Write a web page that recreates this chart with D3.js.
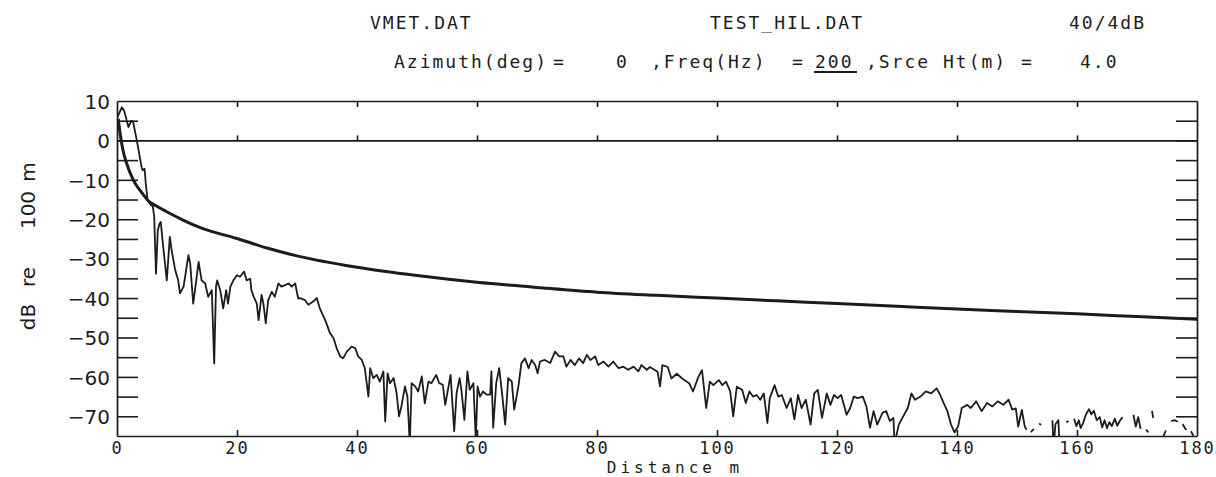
<!DOCTYPE html>
<html>
<head>
<meta charset="utf-8">
<script src="https://cdn.jsdelivr.net/npm/d3@7"></script>
<style>
  html, body { margin: 0; padding: 0; background: #fff; }
  svg { display: block; }
</style>
</head>
<body>
<svg id="chart" width="1216" height="477"></svg>
<script>
// ---------------- DATA ----------------
const headerLine1 = ["VMET.DAT", "TEST_HIL.DAT", "40/4dB"];
const azimuthDeg = "0";
const freqHz = "200";
const srceHt = "4.0";

const xTicks = [0, 20, 40, 60, 80, 100, 120, 140, 160, 180];
const yMinorTicks = [5, 0, -5, -10, -15, -20, -25, -30, -35, -40, -45, -50, -55, -60, -65, -70];
const yLabelTicks = [10, 0, -10, -20, -30, -40, -50, -60, -70];

// smooth predicted curve [distance m, dB]
const predicted = [
  [0.2, 5.5], [0.5, 2], [0.7, 0], [1, -2.5], [1.6, -5.8], [2.7, -10], [4, -13],
  [5.2, -15.3], [6.5, -16.6], [8.3, -18.1], [11, -20.2], [14, -22.2], [20, -24.9],
  [25, -27.3], [30, -29.3], [40, -32.2], [50, -34.3], [60, -36], [70, -37.3],
  [80, -38.5], [90, -39.3], [100, -40], [110, -40.7], [120, -41.4], [130, -42.1],
  [140, -42.8], [150, -43.4], [160, -44], [170, -44.7], [180, -45.4]
];

// measured level [distance m, dB]  (null = gap in the trace)
const measured = [
  [0.1, 6], [0.8, 8.4], [1.2, 7.5], [1.9, 3.4], [2.4, 5], [2.7, 4.6], [3.3, 0],
  [3.8, -4.2], [4.1, -6.8], [4.3, -7.6], [4.6, -7.2], [4.8, -11], [5.1, -15.2],
  [5.7, -16.5], [5.9, -16], [6.2, -19.4], [6.5, -33.8], [6.8, -22.8], [7.1, -21.1],
  [7.3, -20.7], [7.7, -27], [8.3, -35.5], [8.8, -24.5], [9.1, -27.8], [9.7, -32.9],
  [10.2, -35.5], [10.5, -38.8], [11.1, -37.1], [11.9, -29.1], [12.2, -31.2],
  [12.7, -41.4], [13.0, -38], [13.6, -30.8], [14.1, -35.5], [14.7, -36.3],
  [15.2, -39.7], [15.8, -38], [16.2, -56.6], [16.5, -37.1], [16.7, -35.5],
  [17.2, -38], [17.7, -42.6], [18.2, -38], [18.5, -41.4], [18.9, -37.1],
  [19.4, -35.5], [20.0, -34.2], [20.5, -34.6], [21.2, -33.3], [21.6, -35.5],
  [22.2, -35.1], [22.4, -38], [22.8, -39.7], [23.3, -41.4], [23.6, -45.6],
  [24.1, -39.2], [24.4, -41.4], [24.8, -46.4], [25.2, -40.5], [25.8, -38.4],
  [26.3, -39.7], [26.9, -36.3], [27.4, -37.1], [28, -36.7], [28.6, -36.3],
  [29.1, -37.1], [29.7, -36.3], [30.2, -40.1],
  [30.5, -40], [31.3, -40.5], [31.9, -41.7], [32.7, -40.9], [33.3, -40],
  [33.8, -42.6], [34.7, -45.6], [35.5, -48.9], [36.1, -50.2], [36.6, -52.7],
  [37.2, -54.8], [37.7, -55.3], [38.3, -53.6], [39.1, -52.3], [39.7, -52.7],
  [40.2, -54.8], [40.8, -55.7], [41.3, -57.8], [41.9, -65], [42.2, -57.8],
  [42.7, -60.3], [43.3, -59.5], [43.8, -61.2], [44.4, -58.6], [44.7, -71.3],
  [45.1, -59.1], [45.5, -61.6], [46.1, -60.3], [46.6, -64.1], [47, -70],
  [47.4, -67.5], [48, -62.4], [48.4, -65], [48.8, -77], [49.1, -61.6],
  [49.7, -62.4], [50.2, -63.7], [50.8, -59.9], [51.3, -66.7], [51.9, -61.2],
  [52.4, -61.6], [53.2, -59.5], [53.7, -61.6], [54.3, -62], [54.7, -67.1],
  [55.2, -62.9], [55.6, -59.5], [56.2, -73.8], [56.6, -64.1], [57.1, -60.3],
  [57.4, -63.3], [57.9, -70.9], [58.4, -58.6], [58.8, -63.3], [59.4, -61.6],
  [59.8, -76], [60.1, -62.4], [60.5, -65], [61, -63.7], [61.6, -64.5],
  [62.2, -64.5], [62.4, -58.6], [62.7, -72.9], [63.2, -61.6], [63.7, -57.8],
  [64.2, -64.5], [64.7, -72.1], [65.2, -60.3], [65.8, -61.2], [66.2, -68.3],
  [66.9, -62.4], [67.4, -56.5], [68, -55.3], [68.6, -57.8], [69.1, -55.7],
  [69.7, -57], [70.1, -59.1], [70.5, -56.1], [71.3, -55.7], [72.2, -56.5],
  [73, -53.6], [73.7, -54.8], [74.4, -54.8], [74.9, -57.4], [75.6, -55.7],
  [76.3, -57], [77, -55.3], [77.7, -56.5], [78.3, -54.4], [78.9, -55.7],
  [79.7, -54.8], [80.2, -57], [81.1, -56.1], [81.9, -57.4], [82.7, -56.1],
  [83.6, -57.8], [84.4, -57.4], [85.2, -58.2], [86.1, -57.4], [86.9, -58.6],
  [87.4, -57], [88.3, -58.2],
  [88.8, -57.5], [90.1, -58.7], [90.5, -62.4], [90.9, -57], [91.8, -57.5],
  [92.4, -60.4], [93.3, -59.2], [94.2, -60.4], [95.4, -61.7], [96, -63.7],
  [96.9, -60], [97.5, -58.3], [98.2, -67.9], [98.8, -61.2], [99.4, -62.1],
  [100.3, -60.8], [100.9, -62.1], [101.5, -61.2], [102.2, -63.7], [102.7, -70],
  [103.3, -62.5], [104.2, -63.3], [104.8, -66.6], [105.4, -63.7], [106, -65],
  [106.6, -64.6], [107.2, -65.8], [107.8, -64.2], [108.4, -71.7], [108.8, -65.4],
  [109.6, -62.1], [110.2, -65], [110.8, -64.6], [111.6, -67.9], [112.3, -65.4],
  [112.9, -70.8], [113.5, -64.6], [114.1, -67.9], [114.8, -65.8], [115.6, -72.1],
  [116.2, -64.2], [116.8, -63.3], [117.5, -70.4], [118.3, -64.2], [118.9, -67.1],
  [119.5, -64.6], [120.1, -65.4], [120.7, -64.6], [121.6, -69.6], [122.2, -67.9],
  [122.8, -65], [123.4, -65.4], [124.3, -65], [124.9, -67.5], [125.5, -72.9],
  [126.1, -68.7], [126.7, -72.1], [127.6, -69.1], [128.2, -68.7], [128.8, -71.2],
  [129.4, -70.4], [129.6, -77], [130.3, -72.1], [130.9, -70.4], [131.8, -67.9],
  [132.4, -64.2], [133, -65.8], [133.9, -65], [134.8, -63.7], [135.7, -64.2],
  [136.6, -62.9], [137.2, -64.6], [137.8, -66.7], [138.4, -68.7], [139, -72.1],
  [139.6, -74.1], [140.2, -72.5], [140.8, -67.9], [141.7, -67.1], [142.3, -67.9],
  [143.2, -66.2], [144.1, -68.7], [145, -66.6], [145.9, -67.5], [146.8, -66.2],
  [147.7, -67.1], [148.6, -65.8], [149.2, -68.3],
  [149.8, -68], [150.2, -72.6], [150.8, -68.4], [151.3, -72.6], [151.6, -73.4],
  [151.8, null], [152.3, -74], [152.8, -73.2], [153.1, null], [153.7, -71.8],
  [154, -72.2], [154.2, null], [155.9, -71], [156.1, -78], [156.4, -72],
  [156.9, -71], [157.1, -78], [157.4, null], [158.2, -71.5], [158.6, -71.2],
  [158.8, null], [159.5, -70.6], [159.9, -72.5], [160.3, -71], [160.6, -73],
  [161, -71.8], [161.5, -69.5], [162, -68.2], [162.4, -69.5], [162.8, -68.6],
  [163.3, -71], [163.8, -70.2], [164.2, -72.8], [164.6, -71], [165, -73],
  [165.4, -71.5], [165.8, -72.5], [166.3, -70.6], [166.7, -72.4], [167.2, -71],
  [167.6, -70.2], [168, null], [168.5, -70.8], [168.8, null], [169.4, -69.6],
  [169.8, -72.6], [170.2, -70.2], [170.6, -73.2], [170.9, null], [171.5, -73.4],
  [171.9, -74.1], [172.1, null], [172.5, -68.6], [172.7, -70.4], [172.9, null],
  [174.3, -75.5], [174.8, -73.6], [175.1, null], [175.7, -71.2], [176.3, -71],
  [176.8, -71.4], [177.1, null], [177.6, -72], [178.2, -73.5], [178.5, null],
  [179, -73.8], [179.4, -75]
];

// ---------------- CHART ----------------
const svg = d3.select("#chart");
const ink = "#1c1c1c";
const x = d3.scaleLinear().domain([0, 180]).range([117, 1197]);
const y = d3.scaleLinear().domain([-75, 10]).range([436, 101]);

svg.append("rect").attr("width", 1216).attr("height", 477).attr("fill", "#fff");

// header
const mono = "'DejaVu Sans Mono', monospace";
const hdr = svg.append("g").attr("fill", ink).attr("font-family", mono)
  .attr("font-size", 18).attr("letter-spacing", 2);
const line1X = [370, 710, 1069];
headerLine1.forEach((t, i) => hdr.append("text").attr("x", line1X[i]).attr("y", 29).text(t));
const line2 = [
  ["Azimuth(deg)", 394], ["=", 553], [azimuthDeg, 616], [",Freq(Hz)", 651],
  ["=", 792], [freqHz, 815], [",Srce Ht(m)", 866], ["=", 1021], [srceHt, 1080]
];
line2.forEach(([t, px]) => hdr.append("text").attr("x", px).attr("y", 68).text(t));
// underline under the frequency value
hdr.append("line").attr("x1", 814).attr("x2", 857).attr("y1", 72).attr("y2", 72)
  .attr("stroke", ink).attr("stroke-width", 2);

// axes
function styleAxis(g) {
  g.selectAll("path.domain").attr("stroke", ink).attr("stroke-width", 1.7);
  g.selectAll(".tick line").attr("stroke", ink).attr("stroke-width", 1.6);
}

const yLeft = svg.append("g").attr("transform", "translate(117,0)")
  .call(d3.axisLeft(y).tickValues(yMinorTicks).tickSizeInner(-21).tickSizeOuter(0).tickFormat(() => ""));
styleAxis(yLeft);

const yLabels = svg.append("g").attr("transform", "translate(117,0)")
  .call(d3.axisLeft(y).tickValues(yLabelTicks).tickSize(0).tickPadding(7).tickFormat(d3.format("d")));
yLabels.select("path.domain").remove();
yLabels.selectAll("text").attr("font-family", "'DejaVu Sans', sans-serif")
  .attr("font-size", 20).attr("fill", ink).attr("dy", "0.36em");

const yRight = svg.append("g").attr("transform", "translate(1197,0)")
  .call(d3.axisRight(y).tickValues(yMinorTicks).tickSizeInner(-21).tickSizeOuter(0).tickFormat(() => ""));
styleAxis(yRight);

const xBottom = svg.append("g").attr("transform", "translate(0,436)")
  .call(d3.axisBottom(x).tickValues(xTicks).tickSizeInner(-6).tickSizeOuter(0).tickPadding(6).tickFormat(d3.format("d")));
styleAxis(xBottom);
xBottom.selectAll(".tick").filter(d => d === 0 || d === 180).select("line").remove();
xBottom.selectAll("text").attr("font-family", mono).attr("font-size", 17)
  .attr("fill", ink).attr("letter-spacing", 2);

const xTop = svg.append("g").attr("transform", "translate(0,101)")
  .call(d3.axisTop(x).tickValues(xTicks.slice(1, -1)).tickSizeInner(-6).tickSizeOuter(0).tickFormat(() => ""));
styleAxis(xTop);

const xZero = svg.append("g").attr("transform", `translate(0,${y(0)})`)
  .call(d3.axisTop(x).tickValues(xTicks.slice(1, -1)).tickSizeInner(5).tickSizeOuter(0).tickFormat(() => ""));
styleAxis(xZero);

// axis titles
svg.append("text").attr("x", 675).attr("y", 473).attr("text-anchor", "middle")
  .attr("font-family", mono).attr("font-size", 16).attr("letter-spacing", 4)
  .attr("fill", ink).text("Distance m");

const yTitle = [["dB", 317], ["re", 277], ["100", 210], ["m", 172]];
yTitle.forEach(([t, cy]) => svg.append("text")
  .attr("transform", `translate(35,${cy}) rotate(-90)`)
  .attr("text-anchor", "middle").attr("font-family", "'DejaVu Sans', sans-serif")
  .attr("font-size", 20).attr("fill", ink).text(t));

// clip
svg.append("clipPath").attr("id", "plotclip").append("rect")
  .attr("x", x(0)).attr("y", y(10)).attr("width", x(180) - x(0)).attr("height", y(-75) - y(10));

const plot = svg.append("g").attr("clip-path", "url(#plotclip)");

const lineMeas = d3.line().defined(d => d[1] !== null)
  .x(d => x(d[0])).y(d => y(d[1])).curve(d3.curveLinear);
plot.append("path").datum(measured).attr("d", lineMeas)
  .attr("fill", "none").attr("stroke", ink).attr("stroke-width", 1.8)
  .attr("stroke-linejoin", "round");

const linePred = d3.line().x(d => x(d[0])).y(d => y(d[1])).curve(d3.curveMonotoneX);
plot.append("path").datum(predicted).attr("d", linePred)
  .attr("fill", "none").attr("stroke", ink).attr("stroke-width", 3);
</script>
</body>
</html>
